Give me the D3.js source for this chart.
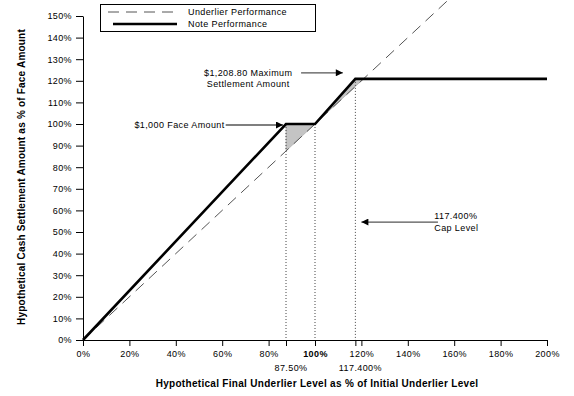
<!DOCTYPE html>
<html>
<head>
<meta charset="utf-8">
<script src="https://cdn.jsdelivr.net/npm/d3@7"></script>
<style>
  html, body { margin: 0; padding: 0; background: #fff; }
  svg { display: block; font-family: "Liberation Sans", Arial, sans-serif; }
</style>
</head>
<body>
<div id="chart"></div>
<script>
// ---- data ----
const xTicks = [0, 20, 40, 60, 80, 100, 120, 140, 160, 180, 200];
const yTicks = [0, 10, 20, 30, 40, 50, 60, 70, 80, 90, 100, 110, 120, 130, 140, 150];
const extraTicks = [87.5, 117.4];
const extraTickLabels = ["87.50%", "117.400%"];

const underlierLevels = [0, 160];               // underlier performance = level
const noteLevels = [0, 87.5, 100, 117.4, 200];
const noteValues = [0, 100, 100, 120.88, 120.88];

const shadeLevels = [87.5, 100, 117.4, 120.88];
const shadeNote = [100, 100, 120.88, 120.88];

const refLevels = [87.5, 100, 117.4];
const refTops = [100, 100, 120.88];

const W = 574, H = 396;

const svg = d3.select("#chart").append("svg")
  .attr("width", W)
  .attr("height", H);

// ---- scales ----
const x = d3.scaleLinear().domain([0, 200]).range([83, 547]);
const y = d3.scaleLinear().domain([0, 150]).range([340, 16]);

const fmt = d => d + "%";

// ---- shaded difference ----
const shade = shadeLevels.map((l, i) => ({ l, top: shadeNote[i] }));
svg.append("path")
  .datum(shade)
  .attr("d", d3.area()
    .x(d => x(d.l))
    .y0(d => y(d.l))
    .y1(d => y(d.top)))
  .attr("fill", "#c4c4c4")
  .attr("stroke", "#9a9a9a")
  .attr("stroke-width", 0.5);

// ---- dotted reference lines ----
svg.selectAll("line.ref")
  .data(refLevels)
  .enter()
  .append("line")
  .attr("class", "ref")
  .attr("x1", d => x(d))
  .attr("x2", d => x(d))
  .attr("y1", (d, i) => y(refTops[i]))
  .attr("y2", y(0))
  .attr("stroke", "#444")
  .attr("stroke-width", 1)
  .attr("stroke-dasharray", "1,2");

// ---- axes ----
const xAxis = svg.append("g")
  .attr("transform", `translate(0,${y(0)})`)
  .call(d3.axisBottom(x)
    .tickValues(xTicks.concat(extraTicks))
    .tickSize(6)
    .tickSizeOuter(0)
    .tickFormat(d => xTicks.includes(d) ? fmt(d) : ""));
xAxis.select(".domain").attr("stroke", "#000");
xAxis.selectAll(".tick line").attr("stroke", "#000");
xAxis.selectAll(".tick text")
  .attr("y", 11)
  .style("font-size", "9px")
  .style("letter-spacing", "0.4px")
  .style("font-weight", d => d === 100 ? "700" : "400")
  .attr("fill", "#000");

xAxis.selectAll("text.extra")
  .data(extraTicks)
  .enter()
  .append("text")
  .attr("class", "extra")
  .attr("x", d => x(d) + 5)
  .attr("y", 31)
  .attr("text-anchor", "middle")
  .style("font-size", "9px")
  .style("letter-spacing", "0.4px")
  .attr("fill", "#000")
  .text((d, i) => extraTickLabels[i]);

const yAxis = svg.append("g")
  .attr("transform", `translate(${x(0)},0)`)
  .call(d3.axisLeft(y)
    .tickValues(yTicks)
    .tickSize(7)
    .tickSizeOuter(0)
    .tickFormat(fmt));
yAxis.select(".domain").attr("stroke", "#000");
yAxis.selectAll(".tick line").attr("stroke", "#000");
yAxis.selectAll(".tick text")
  .attr("x", -11)
  .style("font-size", "9px")
  .style("letter-spacing", "0.4px")
  .attr("fill", "#000");

// ---- underlier line ----
svg.append("path")
  .datum(underlierLevels)
  .attr("d", d3.line().x(d => x(d)).y(d => y(d)))
  .attr("fill", "none")
  .attr("stroke", "#555")
  .attr("stroke-width", 1)
  .attr("stroke-dasharray", "11,7");

// ---- note line ----
svg.append("path")
  .datum(noteLevels.map((l, i) => [l, noteValues[i]]))
  .attr("d", d3.line().x(d => x(d[0])).y(d => y(d[1])))
  .attr("fill", "none")
  .attr("stroke", "#000")
  .attr("stroke-width", 2.6)
  .attr("stroke-linejoin", "miter");

// ---- arrow marker ----
svg.append("defs").append("marker")
  .attr("id", "head")
  .attr("viewBox", "0 0 10 10")
  .attr("refX", 10)
  .attr("refY", 5)
  .attr("markerWidth", 11)
  .attr("markerHeight", 7)
  .attr("markerUnits", "userSpaceOnUse")
  .attr("orient", "auto")
  .append("path")
  .attr("d", "M0,0L10,5L0,10Z")
  .attr("fill", "#000");

const note = (x1, x2, yy) => svg.append("line")
  .attr("x1", x1).attr("x2", x2)
  .attr("y1", yy).attr("y2", yy)
  .attr("stroke", "#555")
  .attr("stroke-width", 1.3)
  .attr("marker-end", "url(#head)");

const label = (tx, ty, anchor, lines) => {
  const t = svg.append("text")
    .attr("text-anchor", anchor)
    .style("font-size", "9px")
    .style("letter-spacing", "0.4px")
    .attr("fill", "#000");
  lines.forEach((s, i) => t.append("tspan")
    .attr("x", tx)
    .attr("y", ty + i * 11.5)
    .text(s));
};

// face amount
note(x(61.5), x(86.2), y(100) + 1);
label(x(61.5) - 1, y(100) + 4, "end", ["$1,000 Face Amount"]);

// maximum settlement amount
note(x(94), x(112), y(123.7));
label(x(71.2), y(123.7) + 3, "middle", ["$1,208.80 Maximum", "Settlement Amount"]);

// cap level
note(x(153), x(120), y(54.6));
label(x(151.4), y(54.6) - 3, "start", ["117.400%", "Cap Level"]);

// ---- axis titles ----
svg.append("text")
  .attr("x", 317)
  .attr("y", 387)
  .attr("text-anchor", "middle")
  .style("font-size", "10px")
  .style("font-weight", "700")
  .style("letter-spacing", "0.3px")
  .attr("fill", "#000")
  .text("Hypothetical Final Underlier Level as % of Initial Underlier Level");

svg.append("text")
  .attr("transform", "translate(25,177) rotate(-90)")
  .attr("text-anchor", "middle")
  .style("font-size", "10px")
  .style("font-weight", "700")
  .style("letter-spacing", "0.2px")
  .attr("fill", "#000")
  .text("Hypothetical Cash Settlement Amount as % of Face Amount");

// ---- legend ----
const legend = svg.append("g");
legend.append("rect")
  .attr("x", 100.5).attr("y", 4.5)
  .attr("width", 215).attr("height", 27)
  .attr("fill", "#fff")
  .attr("stroke", "#000")
  .attr("stroke-width", 1);
legend.append("line")
  .attr("x1", 108).attr("x2", 177)
  .attr("y1", 12).attr("y2", 12)
  .attr("stroke", "#555")
  .attr("stroke-width", 1)
  .attr("stroke-dasharray", "11,7");
legend.append("line")
  .attr("x1", 113).attr("x2", 177)
  .attr("y1", 24).attr("y2", 24)
  .attr("stroke", "#000")
  .attr("stroke-width", 2.6);
["Underlier Performance", "Note Performance"].forEach((s, i) => {
  legend.append("text")
    .attr("x", 188)
    .attr("y", 15 + i * 12)
    .style("font-size", "9px")
    .style("letter-spacing", "0.4px")
    .attr("fill", "#000")
    .text(s);
});
</script>
</body>
</html>
